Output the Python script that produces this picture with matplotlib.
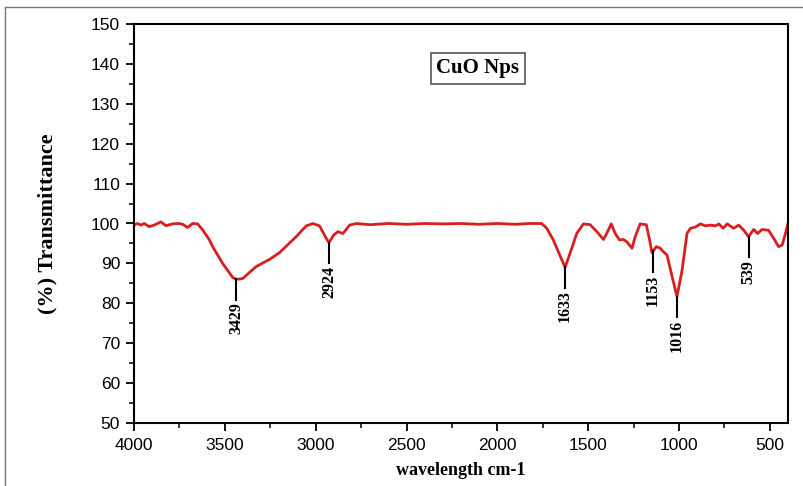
import numpy as np
import matplotlib
matplotlib.use("Agg")
import matplotlib.pyplot as plt
from matplotlib.ticker import MultipleLocator
from matplotlib.lines import Line2D

# ---- data ----
wavenumber = [4000, 3981, 3962, 3944, 3916, 3889, 3852, 3824, 3788, 3751, 3732, 3705,
              3677, 3650, 3622, 3585, 3567, 3512, 3457, 3438, 3402, 3328, 3254, 3199,
              3107, 3052, 3015, 2979, 2942, 2927, 2901, 2878, 2850, 2813, 2776, 2700,
              2600, 2500, 2400, 2300, 2200, 2100, 2000, 1900, 1820, 1756, 1728, 1692,
              1664, 1627, 1600, 1563, 1526, 1489, 1452, 1416, 1398, 1373, 1351, 1328,
              1306, 1287, 1259, 1241, 1214, 1180, 1162, 1149, 1125, 1103, 1094, 1066,
              1038, 1011, 983, 956, 937, 910, 882, 854, 827, 799, 781, 757, 735, 699,
              672, 645, 617, 589, 567, 543, 507, 479, 452, 432, 414, 401]
transmittance = [99.6, 100.0, 99.6, 100.0, 99.2, 99.6, 100.4, 99.45, 99.9, 100.0, 99.8, 99.0,
                 100.0, 99.9, 98.4, 95.9, 94.2, 90.0, 86.5, 86.0, 86.2, 89.2, 91.0, 92.7,
                 96.7, 99.4, 100.0, 99.4, 96.3, 95.2, 97.1, 97.95, 97.5, 99.6, 100.0, 99.7,
                 100.0, 99.8, 100.0, 99.9, 100.0, 99.8, 100.0, 99.8, 100.0, 100.0, 98.8, 95.9,
                 92.9, 89.0, 92.5, 97.5, 99.9, 99.7, 97.95, 96.0, 97.5, 99.9, 97.5, 95.9,
                 96.0, 95.4, 93.8, 96.7, 99.9, 99.7, 95.9, 92.7, 94.2, 93.8, 93.3, 92.1,
                 86.7, 81.7, 88.3, 97.5, 98.8, 99.1, 99.9, 99.4, 99.6, 99.4, 99.9, 98.8, 99.9, 98.8,
                 99.6, 98.4, 96.7, 98.5, 97.5, 98.5, 98.3, 96.3, 94.2, 94.6, 97.5, 99.9]

peak_labels = ["3429", "2924", "1633", "1153", "1016", "539"]
peak_positions = [3438, 2927, 1627, 1143, 1011, 617]

x_ticks = [4000, 3500, 3000, 2500, 2000, 1500, 1000, 500]
y_ticks = [50, 60, 70, 80, 90, 100, 110, 120, 130, 140, 150]
title_text = "CuO Nps"
x_label = "wavelength cm-1"
y_label = "(%) Transmittance"

# ---- figure ----
W, H = 804, 486
fig = plt.figure(figsize=(W / 100, H / 100), dpi=100)
ax = fig.add_axes([134 / W, 1 - 423 / H, (788 - 134) / W, (423 - 24) / H])

ax.plot(wavenumber, transmittance, color="#d81e1e", lw=2.0, solid_joinstyle="round")

ax.set_xlim(4000, 400)
ax.set_ylim(50, 150)
ax.set_xticks(x_ticks)
ax.set_yticks(y_ticks)
ax.xaxis.set_minor_locator(MultipleLocator(250))
ax.yaxis.set_minor_locator(MultipleLocator(5))
ax.tick_params(which="major", direction="out", length=6, width=1.3, pad=4)
ax.tick_params(which="minor", direction="out", length=3.5, width=1.1)
ax.tick_params(axis="x", which="major", pad=5)
for lab in ax.get_xticklabels() + ax.get_yticklabels():
    lab.set_fontfamily("Liberation Sans")
    lab.set_fontsize(12.5)
for s in ax.spines.values():
    s.set_linewidth(1.5)

ax.set_xlabel(x_label, family="Liberation Serif", weight="bold", fontsize=13, labelpad=6)
ax.set_ylabel(y_label, family="Liberation Serif", weight="bold", fontsize=16, labelpad=24)

# peak markers
curve_x = np.array(wavenumber[::-1], dtype=float)
curve_y = np.array(transmittance[::-1], dtype=float)
for lab, px in zip(peak_labels, peak_positions):
    top = np.interp(px, curve_x, curve_y)
    ax.plot([px, px], [top, top - 5.2], color="black", lw=1.5)
    ax.text(px, top - 5.8, lab, rotation=90, ha="center", va="top",
            family="Liberation Serif", weight="bold", fontsize=11.5)

# title box
ax.text(2107, 138.85, title_text, ha="center", va="center",
        family="Liberation Serif", weight="bold", fontsize=15,
        bbox=dict(boxstyle="square,pad=0.25", fc="white", ec="#555555", lw=1.2))

# outer frame of the picture
fig.add_artist(Line2D([5 / W, 1], [1 - 7 / H, 1 - 7 / H], transform=fig.transFigure,
                      color="#777777", lw=1.0))
fig.add_artist(Line2D([5 / W, 5 / W], [0, 1 - 7 / H], transform=fig.transFigure,
                      color="#777777", lw=1.0))

fig.savefig("out.png", dpi=100)
